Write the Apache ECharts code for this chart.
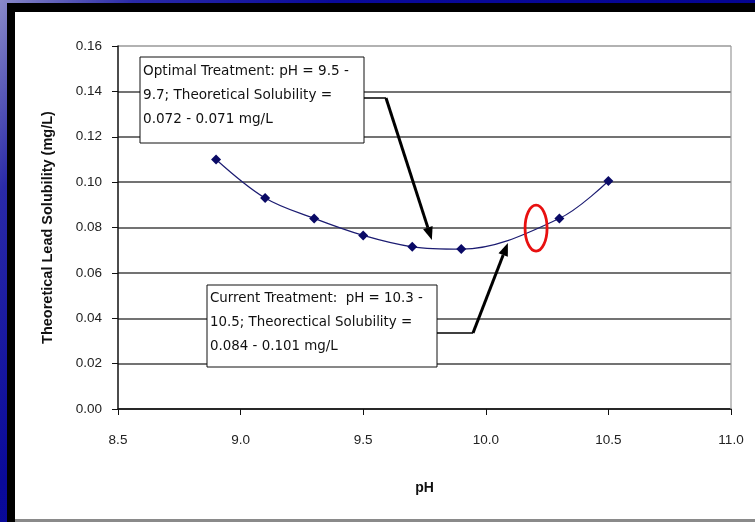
<!DOCTYPE html>
<html>
<head>
<meta charset="utf-8">
<script src="https://cdn.jsdelivr.net/npm/echarts@6/dist/echarts.min.js"></script>
<style>html,body{margin:0;padding:0;background:#0000a0;}#c{width:755px;height:522px;}</style>
</head>
<body>
<div id="c"></div>
<script>
// ---- data ----
var phValues = [8.9, 9.1, 9.3, 9.5, 9.7, 9.9, 10.3, 10.5];
var solubility = [0.110, 0.093, 0.084, 0.0765, 0.0715, 0.0705, 0.084, 0.1005];
var xTickLabels = ['8.5', '9.0', '9.5', '10.0', '10.5', '11.0'];
var yTickLabels = ['0.00', '0.02', '0.04', '0.06', '0.08', '0.10', '0.12', '0.14', '0.16'];
var note1 = ['Optimal Treatment: pH = 9.5 -', '9.7; Theoretical Solubility =', '0.072 - 0.071 mg/L'];
var note2 = ['Current Treatment:  pH = 10.3 -', '10.5; Theorectical Solubility =', '0.084 - 0.101 mg/L'];
var arrowTip1 = [9.78, 0.0745];
var arrowTip2 = [10.09, 0.0732];
var circleCenter = [10.205, 0.0797];

var chart = echarts.init(document.getElementById('c'));
var seriesData = phValues.map(function (x, i) { return [x, solubility[i]]; });

var option = {
  animation: false,
  backgroundColor: {
    type: 'linear', x: 0, y: 0, x2: 1, y2: 1,
    colorStops: [
      { offset: 0, color: '#8a8ac8' },
      { offset: 0.12, color: '#2a2aa8' },
      { offset: 0.3, color: '#0a0a9a' },
      { offset: 1, color: '#00008a' }
    ]
  },
  grid: { left: 118, right: 24, top: 46, bottom: 113, show: false },
  xAxis: {
    type: 'value', min: 8.5, max: 11.0, interval: 0.5,
    name: 'pH', nameLocation: 'middle', nameGap: 72,
    nameTextStyle: { fontFamily: 'Liberation Sans', fontWeight: 'bold', fontSize: 14, color: '#111' },
    axisLine: { show: true, onZero: false, lineStyle: { color: '#111', width: 1.5 } },
    axisTick: { show: true, length: 6, lineStyle: { color: '#111' } },
    axisLabel: {
      fontFamily: 'Liberation Sans', fontSize: 13.5, color: '#222', margin: 24,
      formatter: function (v) { var i = Math.round((v - 8.5) / 0.5); return xTickLabels[i] || ''; }
    },
    splitLine: { show: false }
  },
  yAxis: {
    type: 'value', min: 0, max: 0.16, interval: 0.02,
    name: 'Theoretical Lead Solubility (mg/L)', nameLocation: 'middle', nameGap: 63,
    nameTextStyle: { fontFamily: 'Liberation Sans', fontWeight: 'bold', fontSize: 14.5, color: '#111' },
    axisLine: { show: true, lineStyle: { color: '#111', width: 1.5 } },
    axisTick: { show: true, length: 6, lineStyle: { color: '#111' } },
    axisLabel: {
      fontFamily: 'Liberation Sans', fontSize: 13.5, color: '#222', margin: 16,
      formatter: function (v) { var i = Math.round(v / 0.02); return yTickLabels[i] || ''; }
    },
    splitLine: {
      show: true,
      lineStyle: {
        width: 1.5,
        color: ['#444', '#444', '#444', '#444', '#444', '#444', '#444', '#444', '#999']
      }
    }
  },
  series: [{
    type: 'line',
    data: seriesData,
    smooth: 0.35,
    symbol: 'diamond',
    symbolSize: 10,
    itemStyle: { color: '#0a0a66' },
    lineStyle: { color: '#1c1c72', width: 1.2 },
    z: 5
  }]
};
chart.setOption(option);

function buildGraphics() {
  var g = [];
  // slide frame
  g.push({ type: 'rect', shape: { x: 7, y: 3, width: 748, height: 519 }, style: { fill: '#000' }, z: -10, silent: true });
  g.push({ type: 'rect', shape: { x: 15, y: 12, width: 740, height: 508 }, style: { fill: '#fff' }, z: -9, silent: true });
  g.push({ type: 'rect', shape: { x: 15, y: 519, width: 740, height: 3 }, style: { fill: '#8a8a8a' }, z: -9, silent: true });
  // plot right border
  var tr = chart.convertToPixel({ gridIndex: 0 }, [11.0, 0.16]);
  var br = chart.convertToPixel({ gridIndex: 0 }, [11.0, 0]);
  g.push({ type: 'line', shape: { x1: tr[0], y1: tr[1], x2: br[0], y2: br[1] }, style: { stroke: '#999', lineWidth: 1.2 }, z: 1, silent: true });

  function box(x, y, w, h, lines, fs) {
    g.push({ type: 'rect', shape: { x: x, y: y, width: w, height: h }, style: { fill: '#fff', stroke: '#111', lineWidth: 1 }, z: 20 });
    lines.forEach(function (t, i) {
      g.push({ type: 'text', x: x + 3, y: y + 14 + i * 24, style: { text: t, fill: '#111', font: fs + 'px "DejaVu Sans"', textVerticalAlign: 'middle', verticalAlign: 'middle' }, z: 21 });
    });
  }
  function arrow(x0, y0, tip) {
    var dx = tip[0] - x0, dy = tip[1] - y0, L = Math.sqrt(dx * dx + dy * dy);
    var ux = dx / L, uy = dy / L, hl = 13, hw = 5;
    var bx = tip[0] - ux * hl, by = tip[1] - uy * hl;
    g.push({ type: 'line', shape: { x1: x0, y1: y0, x2: bx, y2: by }, style: { stroke: '#000', lineWidth: 3 }, z: 22 });
    g.push({ type: 'polygon', shape: { points: [[tip[0], tip[1]], [bx - uy * hw, by + ux * hw], [bx + uy * hw, by - ux * hw]] }, style: { fill: '#000' }, z: 22 });
  }
  box(140, 57, 224, 86, note1, 13.6);
  g.push({ type: 'polyline', shape: { points: [[364, 98], [386, 98]] }, style: { stroke: '#000', lineWidth: 1.5 }, z: 22 });
  arrow(386, 98, chart.convertToPixel({ gridIndex: 0 }, arrowTip1));

  box(207, 285, 230, 82, note2, 13.4);
  g.push({ type: 'polyline', shape: { points: [[437, 333], [473, 333]] }, style: { stroke: '#000', lineWidth: 1.5 }, z: 22 });
  arrow(473, 333, chart.convertToPixel({ gridIndex: 0 }, arrowTip2));

  var cc = chart.convertToPixel({ gridIndex: 0 }, circleCenter);
  g.push({ type: 'ellipse', shape: { cx: cc[0], cy: cc[1], rx: 11, ry: 23 }, style: { fill: 'none', stroke: '#e81010', lineWidth: 2.8 }, z: 25 });
  chart.setOption({ graphic: g });
}
buildGraphics();
</script>
</body>
</html>
